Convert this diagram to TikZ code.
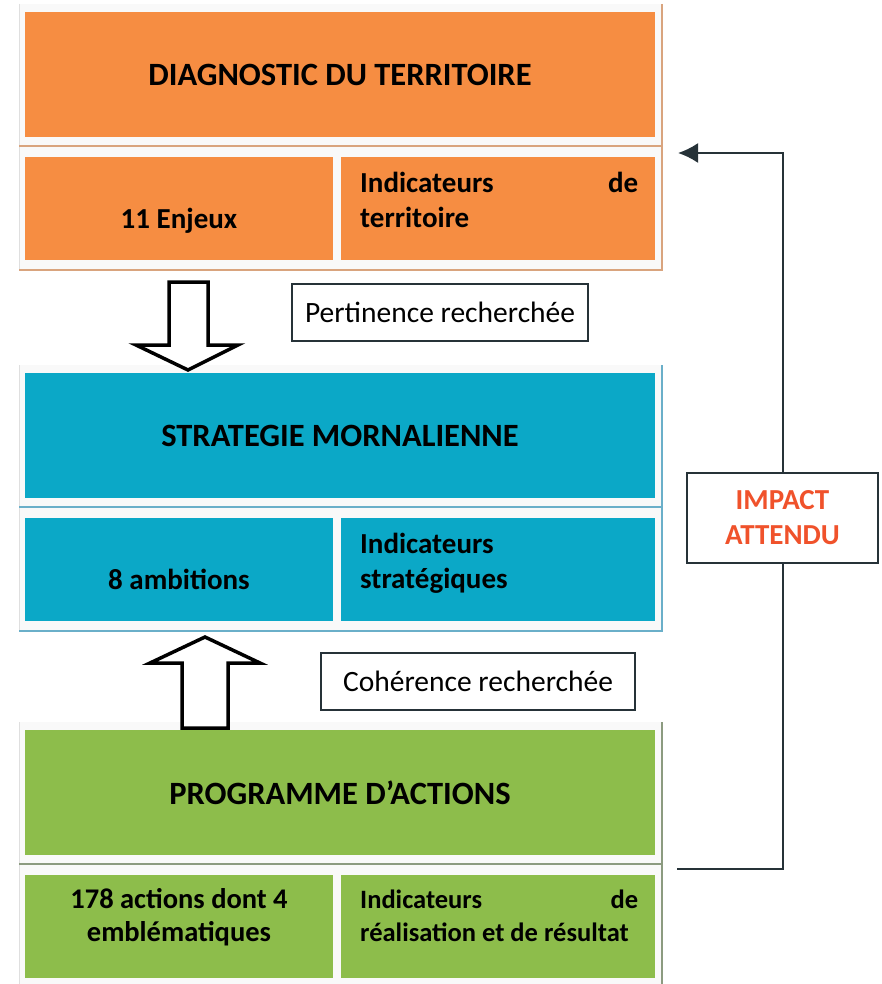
\documentclass[tikz,border=0pt]{standalone}
\usepackage{fontspec}
\setmainfont{Carlito}
\usetikzlibrary{arrows.meta}

\definecolor{diagOrange}{HTML}{F68D42}
\definecolor{diagRule}{HTML}{D9A47E}
\definecolor{stratCyan}{HTML}{0BA8C7}
\definecolor{stratRule}{HTML}{6AAFC9}
\definecolor{progGreen}{HTML}{8DBD4B}
\definecolor{progRule}{HTML}{8C9B80}
\definecolor{impactRed}{HTML}{F0522B}
\definecolor{linkGray}{HTML}{263238}

\tikzset{
    titlebox/.style={minimum width=630pt, minimum height=125pt, inner sep=0pt,
        font=\bfseries\fontsize{32.5}{35}\selectfont},
    cellbox/.style={minimum height=103pt, inner sep=0pt},
    celltext/.style={inner sep=0pt, anchor=base, font=\bfseries\fontsize{\cellSize}{\cellSkip}\selectfont},
    notebox/.style={draw=linkGray, line width=2pt, fill=white, minimum height=57pt,
        inner sep=0pt, font=\fontsize{29.5}{35}\selectfont},
    bigarrow/.style={draw=black, line width=3.5pt, fill=white, line join=miter},
    link/.style={draw=linkGray, line width=2pt},
}

\begin{document}
\begin{tikzpicture}[x=1pt,y=-1pt]
        \useasboundingbox (0,0) rectangle (881,984);
        \def\rowTop{145}
        \def\rowH{103}
        \foreach \i/\fillc/\rulec/\y/\title in {0/diagOrange/diagRule/12/{DIAGNOSTIC DU TERRITOIRE},1/stratCyan/stratRule/373/{STRATEGIE MORNALIENNE},2/progGreen/progRule/730/{PROGRAMME D’ACTIONS}} {
                \ifnum\i=0
                    \def\leftText{11 Enjeux}
                    \def\rightText{Indicateurs\hfill de\\territoire}
                    \def\leftBase{72}
                    \def\rightBase{36}
                    \def\leftSize{29}
                    \def\cellSize{29}
                    \def\cellSkip{35}
                \fi

                \ifnum\i=1
                    \def\leftText{8 ambitions}
                    \def\rightText{Indicateurs\\stratégiques}
                    \def\leftBase{71}
                    \def\rightBase{35}
                    \def\leftSize{29}
                    \def\cellSize{29}
                    \def\cellSkip{35}
                \fi

                \ifnum\i=2
                    \def\leftText{178 actions dont 4\\emblématiques}
                    \def\rightText{Indicateurs\hfill de\\réalisation et de résultat}
                    \def\leftBase{66}
                    \def\rightBase{33}
                    \def\leftSize{28.5}
                    \def\cellSize{26.5}
                    \def\cellSkip{33}
                \fi

                \begin{scope}[shift={(0,\y)}]
                    % light frame of the table
                    \fill[gray!5] (19,-8) rectangle (663,258);
                    \draw[gray!25, line width=0.8pt] (19,-8) -- (19,258);
                    \node[titlebox, fill=\fillc] (title\i) at (340,62.5) {\title};
                    \node[cellbox, fill=\fillc, minimum width=308pt] (left\i) at (179,\rowTop+\rowH/2) {};
                    \node[cellbox, fill=\fillc, minimum width=314pt] (right\i) at (498,\rowTop+\rowH/2) {};
                    \node[celltext, align=center, font=\bfseries\fontsize{\leftSize}{\cellSkip}\selectfont] (leftText\i) at (179,\rowTop+\leftBase) {\leftText};
                    \node[celltext, anchor=base west, text width=278pt, align=justify] (rightText\i) at (360,\rowTop+\rightBase) {\rightText};
                    \draw[\rulec, line width=1.5pt] (19,134) -- (663,134) (19,258) -- (663,258);
                    \draw[\rulec, line width=1.2pt] (662,-8) -- (662,258);
                \end{scope}
            }

        % notes
        \node[notebox, minimum width=296pt] (pertinence) at (440,312.5) {Pertinence recherchée};
        \node[notebox, minimum width=314pt] (coherence) at (478,681.5) {Cohérence recherchée};
        \node[notebox, minimum width=191pt, minimum height=90pt, align=center,
            text=impactRed, font=\bfseries\fontsize{29}{35}\selectfont] (impact) at (782.5,518) {IMPACT\\ATTENDU};

        % block arrows
        \draw[bigarrow] (169,282) -- (208,282) -- (208,345) -- (238,345) -- (188,370)
            -- (136,345) -- (169,345) -- cycle;
        \draw[bigarrow] (182,728) -- (182,663) -- (150,663) -- (205,637) -- (260,663)
            -- (228,663) -- (228,728) -- cycle;

        % feedback
        \coordinate (fbStart) at (677,869);
        \coordinate (fbEnd) at (678,153);
        \draw[link] (fbStart) -| (impact.south);
        \draw[link, -{Latex[length=20pt,width=20pt]}] (impact.north) |- (fbEnd);
    \end{tikzpicture}
\end{document}
